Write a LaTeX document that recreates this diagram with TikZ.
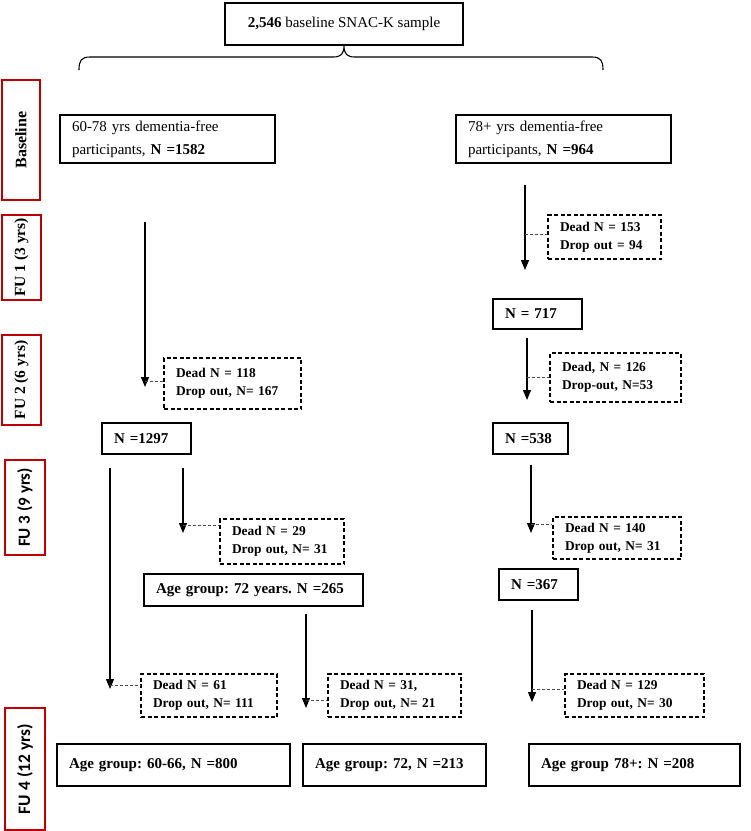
\documentclass[tikz,border=0pt]{standalone}
\usepackage{fontspec}
\setmainfont{Liberation Serif}
\newfontfamily\calib{Carlito}
\usetikzlibrary{arrows.meta,calc}
\definecolor{redlab}{HTML}{C00000}
\frenchspacing
\begin{document}
\begin{tikzpicture}[x=1pt,y=-1pt,
 box/.style={draw, line width=1.1pt, inner xsep=12pt, inner ysep=0pt, align=left, font=\bfseries\fontsize{15}{18}\selectfont},
 dbox/.style={draw, dash pattern=on 4pt off 2.5pt, line width=1.1pt, inner xsep=12pt, inner ysep=0pt, align=left, font=\bfseries\fontsize{13.4}{18}\selectfont},
 lab/.style={draw=redlab, line width=2.8pt, inner sep=0pt, rotate=90, font=\bfseries\fontsize{15.5}{18}\selectfont},
 flow/.style={line width=1.2pt, -{Triangle[length=10pt,width=8pt]}},
 dconn/.style={draw=gray!60!black, dash pattern=on 3pt off 2pt, line width=0.8pt}
]
\useasboundingbox (0,0) rectangle (751,831);

% red period labels
\node[lab, minimum width=120pt, minimum height=38pt, font=\bfseries\fontsize{16}{18}\selectfont] (lb0) at (21,140) {Baseline};
\node[lab, minimum width=85pt, minimum height=39pt] (lb1) at (21.5,257.5) {FU 1 (3 yrs)};
\node[lab, minimum width=90pt, minimum height=39pt] (lb2) at (21.5,380) {FU 2 (6 yrs)};
\node[lab, minimum width=95pt, minimum height=40pt, font=\calib\bfseries\fontsize{17}{20}\selectfont] (lb3) at (25,507.5) {FU 3 (9 yrs)};
\node[lab, minimum width=122pt, minimum height=40pt, font=\calib\bfseries\fontsize{17.5}{20}\selectfont] (lb4) at (25,769) {FU 4 (12 yrs)};

% top
\node[box, align=center, minimum width=238pt, minimum height=42pt, inner xsep=0pt, font=\fontsize{15}{18}\selectfont] (top) at (344,24) {\textbf{2,546} baseline SNAC-K sample};
\node[box, minimum width=215pt, minimum height=48pt, text width=191pt, font=\fontsize{15}{23}\selectfont] (lbase) at (167.5,139) {60-78 yrs dementia-free\\participants, \textbf{N =1582}};
\node[box, minimum width=215pt, minimum height=48pt, text width=191pt, font=\fontsize{15}{23}\selectfont] (rbase) at (563.5,139) {78+ yrs dementia-free\\participants, \textbf{N =964}};

% right column
\node[dbox, minimum width=113pt, minimum height=44pt, text width=89pt] (d153) at (604.5,237) {Dead N = 153\\Drop out = 94};
\node[box, minimum width=89pt, minimum height=30pt, text width=65pt] (n717) at (537.5,314) {N = 717};
\node[dbox, minimum width=131pt, minimum height=49pt, text width=107pt] (d126) at (615.5,377.5) {Dead, N = 126\\Drop-out, N=53};
\node[box, minimum width=75pt, minimum height=31pt, text width=51pt] (n538) at (530.5,438.5) {N =538};
\node[dbox, minimum width=128pt, minimum height=42pt, text width=104pt] (d140) at (617,538) {Dead N = 140\\Drop out, N= 31};
\node[box, minimum width=79pt, minimum height=31pt, text width=55pt] (n367) at (538.5,584.5) {N =367};
\node[dbox, minimum width=139pt, minimum height=43pt, text width=115pt] (d129) at (634.5,695.5) {Dead N = 129\\Drop out, N= 30};
\node[box, minimum width=211pt, minimum height=42pt, text width=187pt] (a78) at (634.5,765) {Age group 78+: N =208};

% left column
\node[dbox, minimum width=137pt, minimum height=51pt, text width=113pt] (d118) at (232.5,383.5) {Dead N = 118\\Drop out, N= 167};
\node[box, minimum width=89pt, minimum height=31pt, text width=65pt] (n1297) at (146.5,438.5) {N =1297};
\node[dbox, minimum width=124pt, minimum height=45pt, text width=100pt] (d29) at (282,541.5) {Dead N = 29\\Drop out, N= 31};
\node[box, minimum width=219pt, minimum height=32pt, text width=195pt] (a72y) at (253.5,590) {Age group: 72 years. N =265};
\node[dbox, minimum width=136pt, minimum height=43pt, text width=112pt] (d61) at (209,695.5) {Dead N = 61\\Drop out, N= 111};
\node[dbox, minimum width=133pt, minimum height=43pt, text width=109pt] (d31) at (394.5,695.5) {Dead N = 31,\\Drop out, N= 21};
\node[box, minimum width=233pt, minimum height=42pt, text width=209pt] (a6066) at (173.5,765) {Age group: 60-66, N =800};
\node[box, minimum width=183pt, minimum height=42pt, text width=159pt] (a72) at (394.5,765) {Age group: 72, N =213};

% brace
\coordinate (bL) at (79,70);
\coordinate (bR) at (603,70);
\coordinate (bT) at (top.south);
\draw[line width=1.1pt] (bL) .. controls (79,61) and (81,57) .. (90,57) -- (333,57) .. controls (341,57) and (344,54) .. (bT) .. controls (344,54) and (347,57) .. (355,57) -- (592,57) .. controls (601,57) and (603,61) .. (bR);

% arrow coordinates
\coordinate (L1s) at (145,222); \coordinate (L1e) at (145,387); \coordinate (L1c) at (145,381);
\coordinate (R1s) at (525,185); \coordinate (R1e) at (525,270); \coordinate (R1c) at (525,234);
\coordinate (R2s) at (527,338); \coordinate (R2e) at (527,400); \coordinate (R2c) at (527,377);
\coordinate (L2s) at (183,468); \coordinate (L2e) at (183,533); \coordinate (L2c) at (183,525);
\coordinate (R3s) at (531,465); \coordinate (R3e) at (531,533); \coordinate (R3c) at (531,524);
\coordinate (L3s) at (110,468); \coordinate (L3e) at (110,689); \coordinate (L3c) at (110,685);
\coordinate (Ms) at (306,614); \coordinate (Me) at (306,708); \coordinate (Mc) at (306,700);
\coordinate (R4s) at (532,610); \coordinate (R4e) at (532,702); \coordinate (R4c) at (532,689);

\draw[flow] (L1s) -- (L1e);
\draw[flow] (R1s) -- (R1e);
\draw[flow] (R2s) -- (R2e);
\draw[flow] (L2s) -- (L2e);
\draw[flow] (R3s) -- (R3e);
\draw[flow] (L3s) -- (L3e);
\draw[flow] (Ms) -- (Me);
\draw[flow] (R4s) -- (R4e);

\draw[dconn] (L1c) -- (L1c -| d118.west);
\draw[dconn] (R1c) -- (R1c -| d153.west);
\draw[dconn] (R2c) -- (R2c -| d126.west);
\draw[dconn] (L2c) -- (L2c -| d29.west);
\draw[dconn] (R3c) -- (R3c -| d140.west);
\draw[dconn] (L3c) -- (L3c -| d61.west);
\draw[dconn] (Mc) -- (Mc -| d31.west);
\draw[dconn] (R4c) -- (R4c -| d129.west);
\end{tikzpicture}
\end{document}
